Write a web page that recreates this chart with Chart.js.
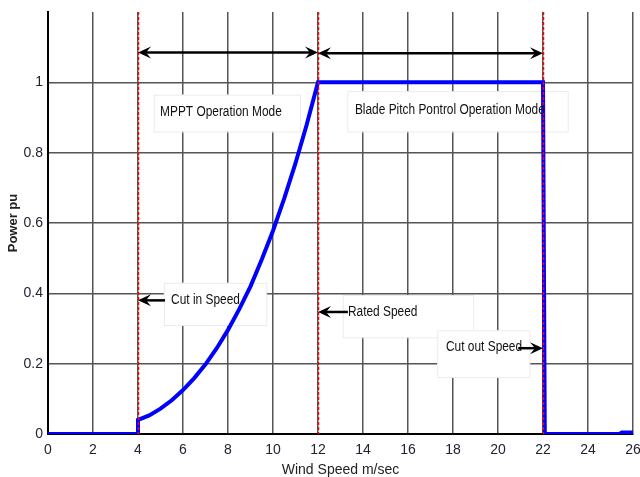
<!DOCTYPE html>
<html>
<head>
<meta charset="utf-8">
<script src="https://cdn.jsdelivr.net/npm/chart.js@4"></script>
<style>
  html, body { margin: 0; padding: 0; background: #fff; }
  #wrap { width: 640px; height: 477px; }
</style>
</head>
<body>
<div id="wrap"><canvas id="power_curve"></canvas></div>
<script>
// wind speed (m/s) and power (pu)
const windSpeed = [0, 4, 4, 4.5, 5, 5.5, 6, 6.5, 7, 7.5, 8, 8.5, 9, 9.5, 10, 10.5, 11, 11.5, 12, 22, 22.08, 25.4, 25.5, 26];
const powerPu   = [0, 0, 0.04, 0.053, 0.072, 0.096, 0.125, 0.159, 0.198, 0.244, 0.296, 0.355, 0.42, 0.496, 0.578, 0.67, 0.77, 0.88, 1, 1, 0, 0, 0.004, 0.004];
const xTicks = [0, 2, 4, 6, 8, 10, 12, 14, 16, 18, 20, 22, 24, 26];
const yTicks = [0, 0.2, 0.4, 0.6, 0.8, 1];

// red dashed marker lines: cut in, rated, cut out
const markerSpeeds = [4, 12, 22];

// text labels [text, x, y]
const labels = [
  ["MPPT Operation Mode", 4.98, 0.915],
  ["Blade Pitch Pontrol Operation Mode", 13.64, 0.92],
  ["Cut in Speed", 5.47, 0.38],
  ["Rated Speed", 13.33, 0.347],
  ["Cut out Speed", 17.69, 0.247],
];
// label boxes [x1, y1, x2, y2]
const labelBoxes = [
  [4.7, 0.965, 11.2, 0.86],
  [13.3, 0.975, 23.1, 0.86],
  [5.15, 0.43, 9.7, 0.31],
  [13.1, 0.395, 18.9, 0.275],
  [17.3, 0.295, 21.4, 0.162],
];
// arrows [x from, x to, y, double headed]
const arrows = [
  [12, 4, 1.085, true],
  [12, 22, 1.083, true],
  [5.2, 4, 0.38, false],
  [13.33, 12, 0.347, false],
  [20.9, 22, 0.244, false],
];

const font = "'Liberation Sans', Arial, sans-serif";

function arrowHead(c, x, y, dir) {
  c.beginPath();
  c.moveTo(x, y);
  c.lineTo(x - dir * 13, y - 6);
  c.lineTo(x - dir * 8, y);
  c.lineTo(x - dir * 13, y + 6);
  c.closePath();
  c.fill();
}

const notes = {
  id: "notes",
  beforeDatasetsDraw(chart) {
    const c = chart.ctx, xs = chart.scales.x, ys = chart.scales.y;
    c.save();
    c.strokeStyle = "#ebebeb";
    c.lineWidth = 1;
    labelBoxes.forEach(b => {
      const x1 = xs.getPixelForValue(b[0]), y1 = ys.getPixelForValue(b[1]);
      const x2 = xs.getPixelForValue(b[2]), y2 = ys.getPixelForValue(b[3]);
      c.fillStyle = "#fff";
      c.fillRect(x1, y1, x2 - x1, y2 - y1);
      c.strokeRect(x1 + 0.5, y1 + 0.5, x2 - x1, y2 - y1);
    });
    c.restore();
  },
  afterDatasetsDraw(chart) {
    const c = chart.ctx, xs = chart.scales.x, ys = chart.scales.y, a = chart.chartArea;
    c.save();
    c.strokeStyle = "#ff0000";
    c.lineWidth = 1.5;
    c.setLineDash([3, 2]);
    markerSpeeds.forEach(v => {
      const x = Math.round(xs.getPixelForValue(v)) + 0.5;
      c.beginPath();
      c.moveTo(x, a.top);
      c.lineTo(x, a.bottom);
      c.stroke();
    });
    c.setLineDash([]);
    c.fillStyle = "#111";
    c.font = "14px " + font;
    c.textBaseline = "middle";
    labels.forEach(l => {
      const x = xs.getPixelForValue(l[1]), y = ys.getPixelForValue(l[2]);
      c.save();
      c.translate(x, y);
      c.scale(0.85, 1);
      c.fillText(l[0], 0, 0);
      c.restore();
    });
    c.strokeStyle = "#000";
    c.fillStyle = "#000";
    c.lineWidth = 2.5;
    arrows.forEach(r => {
      const x1 = xs.getPixelForValue(r[0]), x2 = xs.getPixelForValue(r[1]);
      const y = ys.getPixelForValue(r[2]);
      const dir = x2 > x1 ? 1 : -1;
      c.beginPath();
      c.moveTo(r[3] ? x1 + dir * 6 : x1, y);
      c.lineTo(x2 - dir * 8, y);
      c.stroke();
      arrowHead(c, x2, y, dir);
      if (r[3]) arrowHead(c, x1, y, -dir);
    });
    c.restore();
  }
};

const ctx = document.getElementById("power_curve");
const myChart = new Chart(ctx, {
  type: "line",
  data: {
    datasets: [
      {
        data: windSpeed.map((s, i) => ({ x: s, y: powerPu[i] })),
        borderColor: "#0000ff",
        borderWidth: 4,
        pointRadius: 0,
        tension: 0,
        fill: false,
      },
    ],
  },
  options: {
    responsive: true,
    maintainAspectRatio: false,
    animation: false,
    layout: { padding: { top: 12, right: 7 } },
    scales: {
      x: {
        type: "linear",
        min: 0,
        max: 26,
        afterFit(s) {
          s.height = 43;
          s.paddingLeft = 0;
          s.paddingRight = 0;
        },
        afterBuildTicks(s) { s.ticks = xTicks.map(v => ({ value: v })); },
        grid: { color: "#555", lineWidth: 1.5, drawTicks: false },
        border: { color: "#000", width: 2 },
        ticks: { color: "#223", padding: 8, font: { family: font, size: 14 } },
        title: {
          display: true,
          text: "Wind Speed m/sec",
          color: "#222",
          padding: { top: 0, bottom: -2 },
          font: { family: font, size: 14 },
        },
      },
      y: {
        min: 0,
        max: 1.2,
        afterFit(s) {
          s.width = 48;
          s.paddingTop = 0;
          s.paddingBottom = 0;
        },
        afterBuildTicks(s) { s.ticks = yTicks.map(v => ({ value: v })); },
        grid: { color: "#555", lineWidth: 1.5, drawTicks: false },
        border: { color: "#000", width: 2 },
        ticks: {
          color: "#223",
          padding: 5,
          font: { family: font, size: 14 },
          callback: v => String(v),
        },
        title: {
          display: true,
          text: "Power pu",
          color: "#222",
          padding: { top: 6, bottom: 0 },
          font: { family: font, size: 13, weight: "bold" },
        },
      },
    },
    plugins: {
      legend: { display: false },
      tooltip: { enabled: false },
    },
  },
  plugins: [notes],
});
</script>
</body>
</html>
